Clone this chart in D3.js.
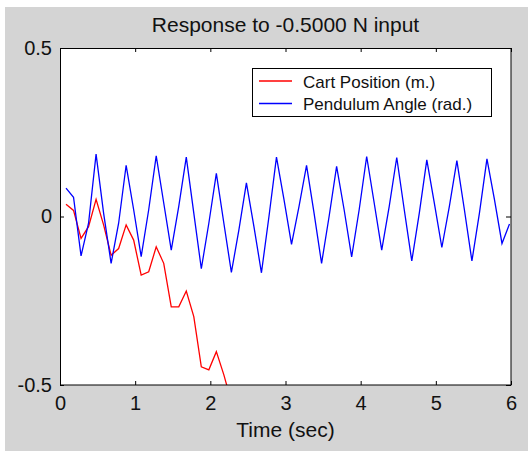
<!DOCTYPE html>
<html>
<head>
<meta charset="utf-8">
<script src="https://cdn.jsdelivr.net/npm/d3@7"></script>
<style>
  body { margin: 0; background: #fff; }
  text { font-family: "Liberation Sans", Arial, sans-serif; fill: #111; }
</style>
</head>
<body>
<script>
// sample times (sec)
var times = [0.08, 0.18, 0.28, 0.38, 0.48, 0.58, 0.68, 0.78, 0.88, 0.98,
             1.08, 1.18, 1.28, 1.38, 1.48, 1.58, 1.68, 1.78, 1.88, 1.98,
             2.08, 2.18, 2.28, 2.38, 2.48, 2.58, 2.68, 2.78, 2.88, 2.98,
             3.08, 3.18, 3.28, 3.38, 3.48, 3.58, 3.68, 3.78, 3.88, 3.98,
             4.08, 4.18, 4.28, 4.38, 4.48, 4.58, 4.68, 4.78, 4.88, 4.98,
             5.08, 5.18, 5.28, 5.38, 5.48, 5.58, 5.68, 5.78, 5.88, 5.98];

// cart position (m.) - leaves the axes after about 2.2 s
var cartPosition = [0.036, 0.018, -0.065, -0.03, 0.051, -0.025, -0.115, -0.095, -0.025, -0.07,
                    -0.174, -0.164, -0.09, -0.139, -0.268, -0.268, -0.221, -0.297, -0.446, -0.455,
                    -0.401, -0.47, -0.55];

// pendulum angle (rad.)
var pendulumAngle = [0.084, 0.057, -0.117, -0.02, 0.185, 0.01, -0.139, -0.02, 0.152, 0.02,
                     -0.119, 0.02, 0.18, 0.04, -0.1, 0.03, 0.176, 0.01, -0.155, -0.02,
                     0.128, -0.02, -0.166, -0.04, 0.1, -0.03, -0.167, 0.0, 0.176, 0.05,
                     -0.083, 0.03, 0.152, 0.01, -0.139, 0.0, 0.149, 0.02, -0.12, 0.02,
                     0.178, 0.04, -0.1, 0.03, 0.175, 0.02, -0.132, 0.01, 0.168, 0.04,
                     -0.092, 0.03, 0.166, 0.02, -0.132, 0.01, 0.171, 0.05, -0.08, -0.022];

var seriesNames = ["Cart Position (m.)", "Pendulum Angle (rad.)"];
var seriesColors = ["#ff0000", "#0000ff"];
var xTicks = [0, 1, 2, 3, 4, 5, 6];
var yTicks = [-0.5, 0, 0.5];

// dimensions
var W = 528, H = 451;
var margin = {top: 48, right: 17, bottom: 66, left: 60};
var width = W - margin.left - margin.right;
var height = H - margin.top - margin.bottom;

var svg = d3.select("body").append("svg")
  .attr("width", W)
  .attr("height", H);

// grey figure background
svg.append("rect")
  .attr("x", 5).attr("y", 7)
  .attr("width", W - 5).attr("height", H - 7)
  .attr("fill", "#d4d4d4");

var g = svg.append("g")
  .attr("transform", "translate(" + margin.left + "," + margin.top + ")");

g.append("rect")
  .attr("width", width).attr("height", height)
  .attr("fill", "#fff");

// scales
var x = d3.scaleLinear().domain([0, 6]).range([0, width]);
var y = d3.scaleLinear().domain([-0.5, 0.5]).range([height, 0]);

g.append("clipPath").attr("id", "plotclip")
  .append("rect").attr("width", width).attr("height", height);

var line = d3.line()
  .x(function(d) { return x(d[0]); })
  .y(function(d) { return y(d[1]); });

var series = [cartPosition, pendulumAngle].map(function(vals) {
  return vals.map(function(v, i) { return [times[i], v]; });
});

g.selectAll("path.series")
  .data(series)
  .enter()
  .append("path")
  .attr("class", "series")
  .attr("clip-path", "url(#plotclip)")
  .attr("d", line)
  .attr("fill", "none")
  .attr("stroke", function(d, i) { return seriesColors[i]; })
  .attr("stroke-width", 1.3);

// axes, ticks pointing inward
function styleAxis(sel) {
  sel.select(".domain").remove();
  sel.selectAll(".tick line").attr("stroke", "#000");
  sel.selectAll("text").attr("font-size", "20px").attr("fill", "#111")
    .attr("font-family", "'Liberation Sans', Arial, sans-serif");
}

g.append("g")
  .attr("transform", "translate(0," + height + ")")
  .call(d3.axisBottom(x).tickValues(xTicks).tickSize(-4).tickPadding(11)
    .tickFormat(function(d) { return String(d); }))
  .call(styleAxis);

g.append("g")
  .call(d3.axisTop(x).tickValues(xTicks).tickSize(-4).tickFormat(""))
  .call(styleAxis);

g.append("g")
  .call(d3.axisLeft(y).tickValues(yTicks).tickSize(-4).tickPadding(8)
    .tickFormat(function(d) { return String(d); }))
  .call(styleAxis);

g.append("g")
  .attr("transform", "translate(" + width + ",0)")
  .call(d3.axisRight(y).tickValues(yTicks).tickSize(-5).tickFormat(""))
  .call(styleAxis);

// axes box
g.append("rect")
  .attr("x", 0.5).attr("y", 0.5)
  .attr("width", width - 0.5).attr("height", height - 0.5)
  .attr("fill", "none")
  .attr("stroke", "#000")
  .attr("stroke-width", 1);

// title and x label
svg.append("text")
  .attr("x", margin.left + width / 2).attr("y", 32)
  .attr("text-anchor", "middle")
  .attr("font-size", "21px")
  .text("Response to -0.5000 N input");

svg.append("text")
  .attr("x", margin.left + width / 2).attr("y", 437)
  .attr("text-anchor", "middle")
  .attr("font-size", "21px")
  .text("Time (sec)");

// legend
var legend = svg.append("g").attr("transform", "translate(252,68)");
legend.append("rect")
  .attr("x", 0.5).attr("y", 0.5)
  .attr("width", 239).attr("height", 48)
  .attr("fill", "#fff")
  .attr("stroke", "#000");

var items = legend.selectAll("g.item")
  .data(seriesNames)
  .enter()
  .append("g")
  .attr("class", "item")
  .attr("transform", function(d, i) { return "translate(0," + (13 + i * 22.5) + ")"; });

items.append("line")
  .attr("x1", 7).attr("x2", 40)
  .attr("stroke", function(d, i) { return seriesColors[i]; })
  .attr("stroke-width", 1.3);

items.append("text")
  .attr("x", 51).attr("y", 6.5)
  .attr("font-size", "17px")
  .text(function(d) { return d; });
</script>
</body>
</html>
